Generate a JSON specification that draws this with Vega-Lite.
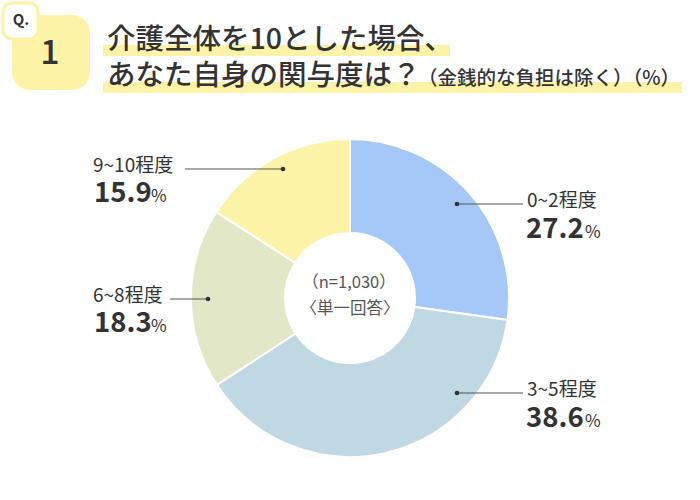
{
  "$schema": "https://vega.github.io/schema/vega-lite/v6.json",
  "width": 700,
  "height": 500,
  "padding": 0,
  "autosize": {"type": "fit", "contains": "padding"},
  "config": {"font": "Noto Sans CJK JP", "view": {"stroke": null}},
  "data": {"values": [
    {"cat": "0~2程度", "value": 27.2, "order": 1},
    {"cat": "3~5程度", "value": 38.6, "order": 2},
    {"cat": "6~8程度", "value": 18.3, "order": 3},
    {"cat": "9~10程度", "value": 15.9, "order": 4}
  ]},
  "resolve": {"scale": {"x": "independent", "y": "independent", "size": "independent", "color": "independent"}},
  "layer": [
    {
      "encoding": {
        "x": {"type": "quantitative", "scale": {"domain": [0, 700], "nice": false, "zero": false}, "axis": null},
        "y": {"type": "quantitative", "scale": {"domain": [0, 500], "reverse": true, "nice": false, "zero": false}, "axis": null}
      },
      "layer": [
        {
          "data": {"values": [{}]},
          "mark": {"type": "rect", "fill": "#fcf3a6", "cornerRadius": 18},
          "encoding": {"x": {"datum": 12}, "x2": {"datum": 90}, "y": {"datum": 15}, "y2": {"datum": 90}}
        },
        {
          "data": {"values": [{}]},
          "mark": {"type": "rect", "fill": "#ffffff", "stroke": "#fcf3a6", "strokeWidth": 3, "cornerRadius": 9},
          "encoding": {"x": {"datum": 3}, "x2": {"datum": 38}, "y": {"datum": 3}, "y2": {"datum": 39}}
        },
        {
          "data": {"values": [{}]},
          "mark": {"type": "text", "text": "Q.", "fontSize": 15, "fontWeight": "bold", "color": "#333333", "align": "center", "baseline": "middle"},
          "encoding": {"x": {"datum": 21}, "y": {"datum": 20}}
        },
        {
          "data": {"values": [{}]},
          "mark": {"type": "text", "text": "1", "fontSize": 34, "fontWeight": 500, "color": "#333333", "align": "center", "baseline": "middle"},
          "encoding": {"x": {"datum": 50}, "y": {"datum": 54}}
        },
        {
          "data": {"values": [{}]},
          "mark": {"type": "rect", "fill": "#fcf3a6"},
          "encoding": {"x": {"datum": 103}, "x2": {"datum": 450}, "y": {"datum": 45}, "y2": {"datum": 56}}
        },
        {
          "data": {"values": [{}]},
          "mark": {"type": "rect", "fill": "#fcf3a6"},
          "encoding": {"x": {"datum": 103}, "x2": {"datum": 682}, "y": {"datum": 82}, "y2": {"datum": 93}}
        },
        {
          "data": {"values": [{}]},
          "mark": {"type": "text", "text": "介護全体を10とした場合、", "fontSize": 28.5, "fontWeight": 500, "color": "#333333", "align": "left", "baseline": "middle"},
          "encoding": {"x": {"datum": 107}, "y": {"datum": 40}}
        },
        {
          "data": {"values": [{}]},
          "mark": {"type": "text", "text": "あなた自身の関与度は？", "fontSize": 28.5, "fontWeight": 500, "color": "#333333", "align": "left", "baseline": "middle"},
          "encoding": {"x": {"datum": 107}, "y": {"datum": 76}}
        },
        {
          "data": {"values": [{}]},
          "mark": {"type": "text", "text": "（金銭的な負担は除く）（%）", "fontSize": 19.5, "fontWeight": 500, "color": "#333333", "align": "left", "baseline": "middle"},
          "encoding": {"x": {"datum": 418}, "y": {"datum": 79}}
        },
        {
          "mark": {"type": "arc", "outerRadius": 159, "innerRadius": 65, "stroke": "#ffffff", "strokeWidth": 2},
          "encoding": {
            "x": {"datum": 350},
            "y": {"datum": 298},
            "theta": {"field": "value", "type": "quantitative", "stack": true},
            "order": {"field": "order", "type": "quantitative"},
            "color": {"field": "cat", "type": "nominal", "legend": null,
              "scale": {"domain": ["0~2程度", "3~5程度", "6~8程度", "9~10程度"], "range": ["#a6c8f9", "#c0d7e4", "#e2e8c7", "#fcf3a6"]}}
          }
        },
        {
          "data": {"values": [{}]},
          "mark": {"type": "text", "text": "（n=1,030）", "fontSize": 16.5, "color": "#555555", "align": "center", "baseline": "middle"},
          "encoding": {"x": {"datum": 349}, "y": {"datum": 283}}
        },
        {
          "data": {"values": [{}]},
          "mark": {"type": "text", "text": "〈単一回答〉", "fontSize": 16.5, "color": "#555555", "align": "center", "baseline": "middle"},
          "encoding": {"x": {"datum": 350}, "y": {"datum": 309}}
        }
      ]
    },
    {
      "mark": {"type": "tick", "orient": "horizontal", "thickness": 1, "color": "#555555", "opacity": 1},
      "encoding": {
        "x": {"field": "order", "type": "quantitative", "axis": null, "scale": {"domain": [1, 2, 3, 4], "range": [490, 490, 189, 234], "nice": false, "zero": false}},
        "y": {"field": "order", "type": "quantitative", "axis": null, "scale": {"domain": [1, 2, 3, 4], "range": [204, 393, 299, 169], "nice": false, "zero": false}},
        "size": {"field": "order", "type": "quantitative", "legend": null, "scale": {"domain": [1, 2, 3, 4], "range": [66, 66, 38, 98], "zero": false}}
      }
    },
    {
      "mark": {"type": "point", "filled": true, "size": 22, "color": "#333333", "opacity": 1},
      "encoding": {
        "x": {"field": "order", "type": "quantitative", "axis": null, "scale": {"domain": [1, 2, 3, 4], "range": [457, 457, 208, 283], "nice": false, "zero": false}},
        "y": {"field": "order", "type": "quantitative", "axis": null, "scale": {"domain": [1, 2, 3, 4], "range": [204, 393, 299, 169], "nice": false, "zero": false}}
      }
    },
    {
      "mark": {"type": "text", "fontSize": 19, "color": "#333333", "align": "left", "baseline": "middle"},
      "encoding": {
        "text": {"field": "cat"},
        "x": {"field": "order", "type": "quantitative", "axis": null, "scale": {"domain": [1, 2, 3, 4], "range": [527, 527, 93, 93], "nice": false, "zero": false}},
        "y": {"field": "order", "type": "quantitative", "axis": null, "scale": {"domain": [1, 2, 3, 4], "range": [201, 390, 296, 166], "nice": false, "zero": false}}
      }
    },
    {
      "mark": {"type": "text", "fontSize": 27.5, "fontWeight": "bold", "color": "#333333", "align": "left", "baseline": "middle"},
      "encoding": {
        "text": {"field": "value", "type": "quantitative", "format": ".1f"},
        "x": {"field": "order", "type": "quantitative", "axis": null, "scale": {"domain": [1, 2, 3, 4], "range": [526, 526, 94, 94], "nice": false, "zero": false}},
        "y": {"field": "order", "type": "quantitative", "axis": null, "scale": {"domain": [1, 2, 3, 4], "range": [230, 419, 324, 194], "nice": false, "zero": false}}
      }
    },
    {
      "mark": {"type": "text", "text": "%", "fontSize": 17, "color": "#333333", "align": "left", "baseline": "middle"},
      "encoding": {
        "x": {"field": "order", "type": "quantitative", "axis": null, "scale": {"domain": [1, 2, 3, 4], "range": [585, 585, 151, 151], "nice": false, "zero": false}},
        "y": {"field": "order", "type": "quantitative", "axis": null, "scale": {"domain": [1, 2, 3, 4], "range": [233, 422, 327, 197], "nice": false, "zero": false}}
      }
    }
  ]
}
